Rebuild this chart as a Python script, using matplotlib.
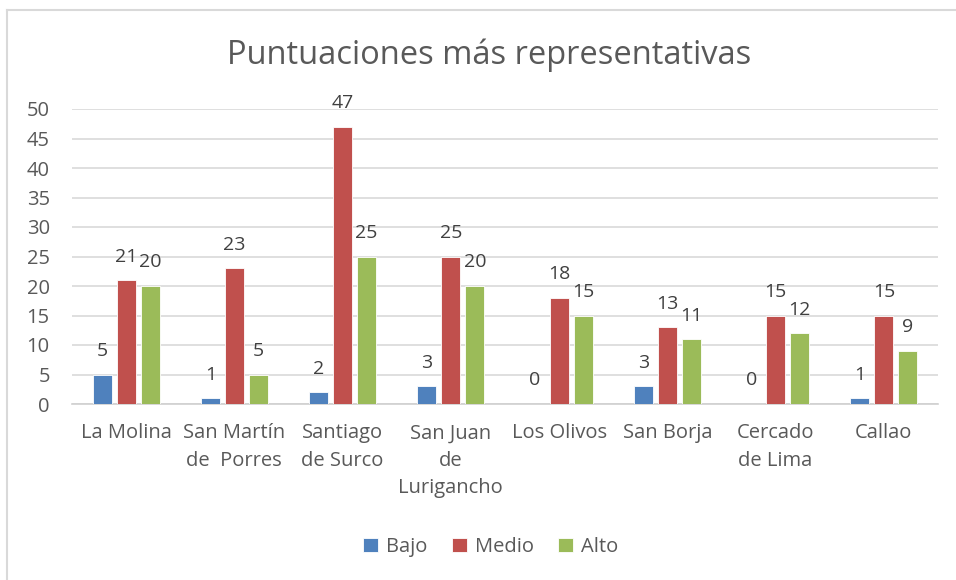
import matplotlib
matplotlib.use("Agg")
import matplotlib.pyplot as plt
from matplotlib.lines import Line2D
import numpy as np

plt.rcParams['font.family'] = ['Open Sans', 'DejaVu Sans']

districts = ["La Molina", "San Martín\nde  Porres", "Santiago\nde Surco", "San Juan\nde\nLurigancho",
             "Los Olivos", "San Borja", "Cercado\nde Lima", "Callao"]
bajo = [5, 1, 2, 3, 0, 3, 0, 1]
medio = [21, 23, 47, 25, 18, 13, 15, 15]
alto = [20, 5, 25, 20, 15, 11, 12, 9]

series = [("Bajo", bajo, "#4F81BD"), ("Medio", medio, "#C0504D"), ("Alto", alto, "#9BBB59")]
text_color = "#595959"

fig = plt.figure(figsize=(9.56, 5.8), dpi=100)
ax = fig.add_axes([72 / 956, 1 - 404 / 580, 866 / 956, 295 / 580])

x = np.arange(len(districts))
width = 0.176
step = 0.222
for i, (name, vals, color) in enumerate(series):
    pos = x + (i - 1) * step
    bars = ax.bar(pos, vals, width, color=color, label=name, edgecolor="white", linewidth=0.6, zorder=3)
    for xp, v in zip(pos, vals):
        ax.annotate(str(v), (xp, v), xytext=(0, 10.5), textcoords="offset points",
                    ha="center", va="bottom", fontsize=14, color="#404040")

ax.set_xlim(-0.5, len(districts) - 0.5)
ax.set_ylim(0, 50)
ax.set_yticks(range(0, 51, 5))
ax.yaxis.grid(True, color="#D9D9D9", linewidth=1.2, zorder=0)
ax.set_axisbelow(True)
for s in ["top", "right", "left"]:
    ax.spines[s].set_visible(False)
ax.spines["bottom"].set_color("#D0D0D0")
ax.spines["bottom"].set_linewidth(1.2)
ax.set_xticks(x)
ax.set_xticklabels(districts, linespacing=1.5)
ax.tick_params(axis="both", length=0, labelsize=14.5, colors=text_color)
ax.tick_params(axis="x", pad=14)
ax.tick_params(axis="y", pad=16)

fig.text(489 / 956, 1 - 55 / 580, "Puntuaciones más representativas", ha="center", va="center",
         fontsize=23.5, color=text_color)

fig.legend(loc="center", bbox_to_anchor=(491 / 956, 1 - 547 / 580), ncol=3, frameon=False,
           fontsize=14.5, labelcolor=text_color, handlelength=0.75, handleheight=0.75,
           handletextpad=0.4, columnspacing=1.2)

# chart frame (only top and left edges visible)
fig.add_artist(Line2D([7 / 956, 1], [1 - 10 / 580, 1 - 10 / 580], transform=fig.transFigure,
                      color="#D9D9D9", linewidth=1.5))
fig.add_artist(Line2D([7 / 956, 7 / 956], [0, 1 - 10 / 580], transform=fig.transFigure,
                      color="#D9D9D9", linewidth=1.5))

fig.savefig("out.png", dpi=100)
